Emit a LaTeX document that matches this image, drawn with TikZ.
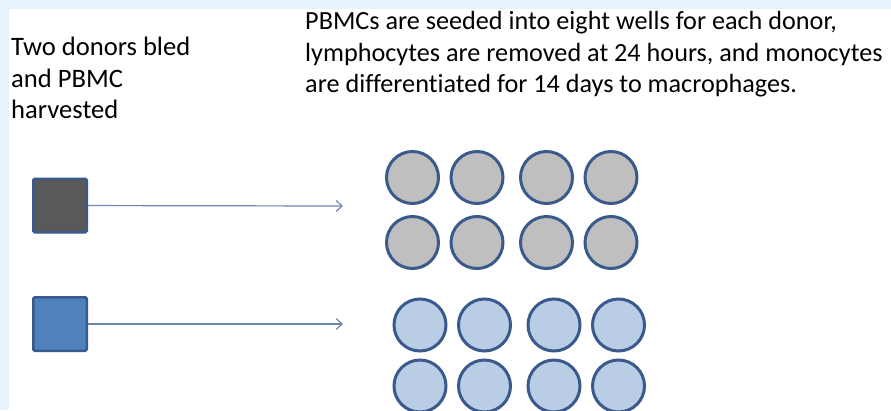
\documentclass[tikz,border=0pt]{standalone}
\usepackage{fontspec}
\setmainfont{Carlito}[Ligatures=NoCommon]
\usetikzlibrary{positioning,arrows.meta}

\definecolor{framebg}{RGB}{230,243,250}
\definecolor{rimblue}{RGB}{58,90,140}
\definecolor{donordark}{RGB}{89,89,89}
\definecolor{donorblue}{RGB}{79,129,189}
\definecolor{wellgrey}{RGB}{191,191,191}
\definecolor{welllight}{RGB}{185,205,229}
\definecolor{feedline}{RGB}{112,135,178}

\begin{document}
\begin{tikzpicture}[%
    x=1pt, y=-1pt,                 % work in pixels, y going down
    >={Straight Barb[length=6pt,width=11pt]},
    ]
% -------------------------------------------------
% Styles for donors, wells and the feed arrows
\tikzset{
  base/.style={draw=rimblue, inner sep=0pt},
  donor/.style={base, rectangle, rounded corners=1.5pt, line width=2.5pt, minimum size=53.5pt},
  well/.style={base, circle, line width=3pt, minimum size=52pt},
  greywell/.style={well, fill=wellgrey},
  bluewell/.style={well, fill=welllight},
  feed/.style={->, draw=feedline, line width=1.2pt},
  caption/.style={anchor=north west, inner sep=0pt, align=left,
    font=\fontsize{26.2}{31.5}\selectfont}
}
% -------------------------------------------------
% Frame
\useasboundingbox (0,0) rectangle (891,410);
\clip (0,0) rectangle (891,410);
\fill[framebg] (0,0) rectangle (891,410);
\fill[white] (9,9) rectangle (891,410);

% Texts
\node [caption, font=\fontsize{26.6}{31.5}\selectfont] (bled) at (11,37) {Two donors bled\\and PBMC\\harvested};
\node [caption] (seeded) at (305,11.5) {PBMCs are seeded into eight wells for each donor,\\lymphocytes are removed at 24 hours, and monocytes\\are differentiated for 14 days to macrophages.};

% Donors
\node [donor, fill=donordark] (d1) at (60,205.5) {};
\node [donor, fill=donorblue] (d2) at (60,324) {};
\coordinate (t1) at (343,206);
\coordinate (t2) at (343,324);

% Wells of donor one
\node [greywell] (a1) at (412.5,177.5) {};
\node [greywell, right=9.5pt of a1] (a2) {};
\node [greywell, right=14.5pt of a2] (a3) {};
\node [greywell, right=9.5pt of a3] (a4) {};
\node [greywell, below=10pt of a1] (a5) {};
\node [greywell, below=10pt of a2] (a6) {};
\node [greywell, below=10pt of a3] (a7) {};
\node [greywell, below=10pt of a4] (a8) {};

% Wells of donor two
\node [bluewell] (b1) at (420,325) {};
\node [bluewell, right=9.5pt of b1] (b2) {};
\node [bluewell, right=14.5pt of b2] (b3) {};
\node [bluewell, right=9.5pt of b3] (b4) {};
\node [bluewell, below=6pt of b1] (b5) {};
\node [bluewell, below=6pt of b2] (b6) {};
\node [bluewell, below=6pt of b3] (b7) {};
\node [bluewell, below=6pt of b4] (b8) {};

\draw[feed] (d1) -- (t1);	%donor one to wells
\draw[feed] (d2) -- (t2);	%donor two to wells
% -------------------------------------------------
\end{tikzpicture}
\end{document}
